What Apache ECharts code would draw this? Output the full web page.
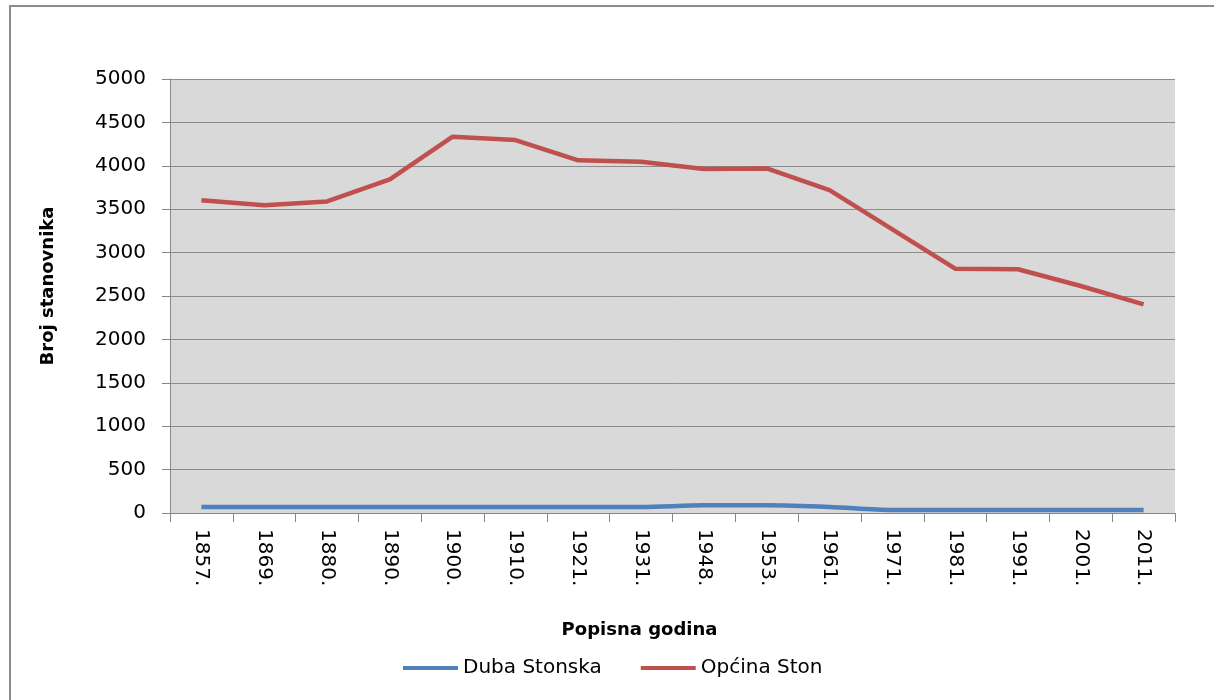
<!DOCTYPE html>
<html>
<head>
<meta charset="utf-8">
<script src="https://cdn.jsdelivr.net/npm/echarts@6/dist/echarts.min.js"></script>
<style>
html,body{margin:0;padding:0;background:#fff;}
#chart{width:1214px;height:700px;}
</style>
</head>
<body>
<div id="chart"></div>
<script>
const categories = ['1857.','1869.','1880.','1890.','1900.','1910.','1921.','1931.','1948.','1953.','1961.','1971.','1981.','1991.','2001.','2011.'];
const dubaStonska = [70, 70, 70, 70, 70, 70, 70, 70, 88, 88, 70, 35, 35, 35, 35, 35];
const opcinaSton = [3603, 3545, 3590, 3844, 4335, 4297, 4063, 4047, 3962, 3969, 3719, 3267, 2815, 2808, 2615, 2404];
const yTicks = { min: 0, max: 5000, interval: 500 };

const FONT = '"DejaVu Sans", sans-serif';
const chart = echarts.init(document.getElementById('chart'), null, { renderer: 'canvas' });
chart.setOption({
  backgroundColor: '#fff',
  animation: false,
  graphic: [{
    type: 'rect', left: 9, top: 5, z: -10,
    shape: { width: 1220, height: 710 },
    style: { fill: '#fff', stroke: '#8c8c8c', lineWidth: 2 }
  }],
  grid: { left: 170, right: 39, top: 79, bottom: 187, show: true, backgroundColor: '#D9D9D9', borderWidth: 0 },
  legend: {
    bottom: 17, left: 398, itemWidth: 55, itemHeight: 4, itemGap: 39,
    icon: 'rect',
    textStyle: { fontFamily: FONT, fontSize: 20, color: '#000' },
    data: ['Duba Stonska', 'Općina Ston']
  },
  xAxis: {
    type: 'category', data: categories, boundaryGap: true,
    name: 'Popisna godina', nameLocation: 'middle', nameGap: 108,
    nameTextStyle: { fontFamily: FONT, fontSize: 18, fontWeight: 'bold', color: '#000', padding: [0, 66, 0, 0] },
    axisLine: { lineStyle: { color: '#868686', width: 1 } },
    axisTick: { show: true, length: 9, lineStyle: { color: '#868686' }, alignWithLabel: false },
    axisLabel: { rotate: -90, fontFamily: FONT, fontSize: 20, color: '#000', margin: 16, interval: 0 },
    splitLine: { show: false }
  },
  yAxis: {
    type: 'value', min: yTicks.min, max: yTicks.max, interval: yTicks.interval,
    name: 'Broj stanovnika', nameLocation: 'middle', nameGap: 113,
    nameTextStyle: { fontFamily: FONT, fontSize: 18, fontWeight: 'bold', color: '#000', padding: [0, 0, 0, 20] },
    axisLine: { show: true, lineStyle: { color: '#868686' } },
    axisTick: { show: true, length: 8, lineStyle: { color: '#868686' } },
    axisLabel: { fontFamily: FONT, fontSize: 20, color: '#000', margin: 24, formatter: v => String(v) },
    splitLine: { show: true, lineStyle: { color: '#8c8c8c', width: 1 } }
  },
  series: [
    { name: 'Duba Stonska', type: 'line', data: dubaStonska, smooth: 0.3, showSymbol: false,
      lineStyle: { color: '#4F81BD', width: 4.5 }, itemStyle: { color: '#4F81BD' } },
    { name: 'Općina Ston', type: 'line', data: opcinaSton, showSymbol: false,
      lineStyle: { color: '#C0504D', width: 4.5 }, itemStyle: { color: '#C0504D' } }
  ]
});
</script>
</body>
</html>
